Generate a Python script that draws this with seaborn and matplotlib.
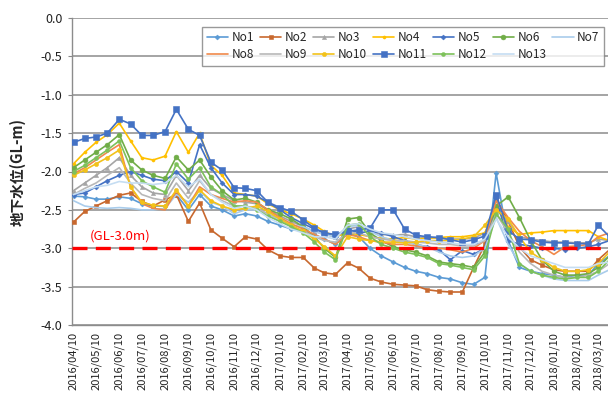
import matplotlib
matplotlib.use("Agg")
import matplotlib.pyplot as plt
import pandas as pd
import seaborn as sns

# survey dates: 10th and 25th of every month, Apr 2016 - Mar 2018
months = pd.date_range("2016-04-01", "2018-03-01", freq="MS")
survey_dates = [m + pd.Timedelta(days=d) for m in months for d in (9, 24)]

# groundwater level below ground (GL-m) for each observation well
no1 = [-2.32, -2.33, -2.36, -2.36, -2.33, -2.35, -2.42, -2.45, -2.45, -2.30, -2.50, -2.30,
       -2.45, -2.50, -2.58, -2.55, -2.58, -2.65, -2.70, -2.75, -2.78, -2.82, -2.88, -2.95,
       -2.80, -2.85, -3.00, -3.10, -3.18, -3.25, -3.30, -3.33, -3.38, -3.40, -3.45, -3.47,
       -3.38, -2.02, -2.90, -3.25, -3.30, -3.33, -3.35, -3.38, -3.35, -3.35, -3.20, -3.10]
no2 = [-2.66, -2.52, -2.45, -2.38, -2.31, -2.28, -2.39, -2.45, -2.37, -2.30, -2.65, -2.41,
       -2.76, -2.87, -2.98, -2.85, -2.88, -3.02, -3.10, -3.12, -3.12, -3.26, -3.32, -3.34,
       -3.19, -3.26, -3.39, -3.44, -3.47, -3.48, -3.49, -3.54, -3.56, -3.57, -3.57, -3.25,
       -2.95, -2.35, -2.65, -2.98, -3.15, -3.22, -3.28, -3.30, -3.30, -3.30, -3.15, -3.02]
no3 = [-2.25, -2.15, -2.05, -1.95, -1.82, -2.05, -2.20, -2.28, -2.30, -2.05, -2.25, -2.05,
       -2.22, -2.30, -2.38, -2.40, -2.42, -2.50, -2.58, -2.65, -2.72, -2.78, -2.82, -2.85,
       -2.75, -2.72, -2.78, -2.82, -2.83, -2.82, -2.85, -2.86, -2.87, -2.88, -2.88, -2.87,
       -2.80, -2.50, -2.65, -2.85, -2.88, -2.90, -2.92, -2.92, -2.93, -2.93, -2.88, -2.90]
no4 = [-1.90, -1.75, -1.62, -1.52, -1.37, -1.60, -1.82, -1.85, -1.80, -1.48, -1.75, -1.50,
       -1.92, -2.05, -2.28, -2.30, -2.32, -2.42, -2.50, -2.55, -2.62, -2.70, -2.78, -2.85,
       -2.80, -2.82, -2.85, -2.87, -2.88, -2.86, -2.88, -2.87, -2.86, -2.85, -2.85, -2.83,
       -2.80, -2.45, -2.72, -2.82, -2.80, -2.79, -2.77, -2.77, -2.77, -2.77, -2.85, -2.90]
no5 = [-2.30, -2.28, -2.20, -2.12, -2.05, -2.00, -2.05, -2.10, -2.12, -2.00, -2.15, -1.65,
       -1.95, -2.15, -2.30, -2.30, -2.32, -2.40, -2.50, -2.60, -2.68, -2.75, -2.80, -2.85,
       -2.75, -2.80, -2.78, -2.80, -2.85, -2.90, -2.95, -2.98, -3.02, -3.15, -3.03, -3.08,
       -3.00, -2.35, -2.90, -2.95, -2.97, -3.00, -3.00, -3.02, -3.00, -2.98, -2.95, -2.90]
no6 = [-1.95, -1.85, -1.75, -1.65, -1.52, -1.85, -1.98, -2.05, -2.09, -1.81, -1.98, -1.85,
       -2.07, -2.25, -2.37, -2.35, -2.40, -2.50, -2.55, -2.62, -2.72, -2.85, -3.00, -3.12,
       -2.62, -2.60, -2.80, -2.90, -2.98, -3.02, -3.05, -3.10, -3.18, -3.20, -3.22, -3.25,
       -3.05, -2.45, -2.33, -2.60, -2.90, -3.15, -3.30, -3.35, -3.35, -3.33, -3.25, -3.10]
no7 = [-2.38, -2.45, -2.47, -2.48, -2.47, -2.48, -2.50, -2.50, -2.48, -2.30, -2.40, -2.25,
       -2.40, -2.45, -2.55, -2.50, -2.50, -2.55, -2.65, -2.70, -2.72, -2.78, -2.82, -2.85,
       -2.72, -2.70, -2.78, -2.85, -2.90, -2.92, -2.95, -2.98, -3.05, -3.10, -3.12, -3.10,
       -3.00, -2.60, -2.95, -3.20, -3.30, -3.35, -3.40, -3.42, -3.42, -3.42, -3.35, -3.28]
no8 = [-2.03, -1.95, -1.85, -1.75, -1.65, -2.20, -2.42, -2.48, -2.50, -2.25, -2.45, -2.20,
       -2.30, -2.35, -2.40, -2.38, -2.40, -2.50, -2.60, -2.68, -2.75, -2.82, -2.88, -2.95,
       -2.82, -2.85, -2.90, -2.92, -2.95, -2.95, -2.97, -3.00, -3.00, -3.02, -3.05, -3.00,
       -2.90, -2.38, -2.60, -2.78, -2.90, -2.98, -3.08, -2.98, -2.97, -2.95, -2.85, -2.80]
no9 = [-2.30, -2.22, -2.15, -2.05, -1.95, -2.15, -2.30, -2.35, -2.38, -2.15, -2.35, -2.12,
       -2.30, -2.38, -2.45, -2.45, -2.48, -2.55, -2.62, -2.70, -2.78, -2.85, -2.90, -2.92,
       -2.80, -2.80, -2.85, -2.88, -2.90, -2.90, -2.92, -2.93, -2.95, -2.95, -2.97, -2.97,
       -2.90, -2.55, -2.80, -3.05, -3.20, -3.30, -3.35, -3.38, -3.38, -3.35, -3.30, -3.20]
no10 = [-2.05, -1.98, -1.90, -1.82, -1.72, -2.20, -2.40, -2.44, -2.45, -2.24, -2.45, -2.24,
        -2.38, -2.45, -2.50, -2.48, -2.45, -2.52, -2.62, -2.70, -2.78, -2.88, -2.98, -3.10,
        -2.85, -2.88, -2.90, -2.92, -2.92, -2.93, -2.92, -2.90, -2.90, -2.90, -2.88, -2.85,
        -2.70, -2.50, -2.62, -2.85, -3.05, -3.15, -3.25, -3.30, -3.30, -3.28, -3.20, -3.05]
no11 = [-1.62, -1.57, -1.55, -1.50, -1.32, -1.38, -1.53, -1.53, -1.48, -1.19, -1.45, -1.53,
        -1.88, -1.98, -2.21, -2.22, -2.25, -2.40, -2.47, -2.52, -2.63, -2.74, -2.80, -2.82,
        -2.78, -2.76, -2.74, -2.50, -2.50, -2.75, -2.83, -2.85, -2.86, -2.89, -2.92, -2.89,
        -2.84, -2.30, -2.77, -2.88, -2.89, -2.92, -2.93, -2.93, -2.94, -2.94, -2.70, -2.85]
no12 = [-2.00, -1.92, -1.82, -1.72, -1.60, -1.95, -2.12, -2.20, -2.27, -1.90, -2.10, -1.95,
        -2.20, -2.30, -2.45, -2.45, -2.50, -2.58, -2.65, -2.72, -2.80, -2.92, -3.05, -3.15,
        -2.70, -2.68, -2.85, -2.95, -3.00, -3.05, -3.08, -3.12, -3.20, -3.22, -3.25, -3.28,
        -3.10, -2.55, -2.75, -3.20, -3.30, -3.35, -3.38, -3.40, -3.38, -3.38, -3.30, -3.15]
no13 = [-2.30, -2.25, -2.20, -2.18, -2.13, -2.15, -2.15, -2.17, -2.15, -2.05, -2.20, -2.10,
        -2.30, -2.40, -2.48, -2.45, -2.50, -2.60, -2.68, -2.75, -2.80, -2.85, -2.85, -2.88,
        -2.70, -2.68, -2.75, -2.80, -2.82, -2.85, -2.88, -2.90, -2.92, -2.93, -2.95, -2.95,
        -2.88, -2.62, -2.85, -3.00, -3.10, -3.15, -3.20, -3.25, -3.25, -3.25, -3.20, -3.18]

wells = ["No1", "No2", "No3", "No4", "No5", "No6", "No7",
         "No8", "No9", "No10", "No11", "No12", "No13"]
levels = [no1, no2, no3, no4, no5, no6, no7, no8, no9, no10, no11, no12, no13]

colors = ["#5B9BD5", "#C8682E", "#A5A5A5", "#FFC000", "#4472C4", "#70AD47", "#A9CCEB",
          "#F0894A", "#B8B8B8", "#F2C21A", "#4472C4", "#7DC15A", "#C5DDF2"]
markers = ["D", "s", "^", "o", "D", "o", None, None, None, "o", "s", "o", None]
msizes = [2.5, 3.5, 3.0, 2.2, 2.5, 3.5, 0, 0, 0, 3.0, 4.2, 2.8, 0]

y_ticks = [0.0, -0.5, -1.0, -1.5, -2.0, -2.5, -3.0, -3.5, -4.0]
y_ticklabels = ["0.0", "-0.5", "-1.0", "-1.5", "-2.0", "-2.5", "-3.0", "-3.5", "-4.0"]
tick_dates = [m + pd.Timedelta(days=9) for m in months]
x_ticklabels = [d.strftime("%Y/%m/%d") for d in tick_dates]

df = pd.DataFrame(
    [(d, v, w) for w, vals in zip(wells, levels) for d, v in zip(survey_dates, vals)],
    columns=["date", "level", "well"],
)

sns.set_theme(style="white")
plt.rcParams["font.family"] = ["Noto Sans CJK JP", "DejaVu Sans"]

fig = plt.figure(figsize=(6.08, 3.96), dpi=100)
ax = fig.add_axes([72 / 608, 71 / 396, 536 / 608, 307 / 396])

for w, c, mk, ms in zip(wells, colors, markers, msizes):
    sub = df[df["well"] == w]
    sns.lineplot(data=sub, x="date", y="level", ax=ax, color=c, lw=1.2,
                 marker=mk, markersize=ms, markeredgewidth=0.4, markeredgecolor=c,
                 estimator=None, label=w, zorder=3)

ax.axhline(-3.0, color="#FF0000", lw=2.4, dashes=(4.5, 2.5), zorder=5)
ax.text(pd.Timestamp("2016-05-01"), -2.93, "(GL-3.0m)", color="#FF0000",
        fontsize=9.5, va="bottom", ha="left")

ax.set_ylim(-4.0, 0.0)
ax.set_xlim(pd.Timestamp("2016-04-08"), pd.Timestamp("2018-03-23"))
ax.set_yticks(y_ticks)
ax.set_yticklabels(y_ticklabels, fontsize=9, color="#222222")
ax.set_xticks(tick_dates)
ax.set_xticklabels(x_ticklabels, rotation=90, fontsize=8, color="#222222")
ax.tick_params(axis="y", length=3, width=0.8, color="#888888", pad=4, left=True)
ax.tick_params(axis="x", length=0, pad=5)

ax.grid(axis="y", color="#8C8C8C", lw=1.1)
ax.grid(axis="x", visible=False)
for side in ("top", "right"):
    ax.spines[side].set_visible(False)
for side in ("left", "bottom"):
    ax.spines[side].set_color("#8C8C8C")
    ax.spines[side].set_linewidth(1.0)

ax.set_xlabel("")
ax.set_ylabel("地下水位(GL-m)", fontsize=10.5, fontweight="bold", labelpad=11)

# legend laid out row by row: No1-No7 on top, No8-No13 below
handles, labels = ax.get_legend_handles_labels()
lookup = dict(zip(labels, handles))
order = ["No1", "No8", "No2", "No9", "No3", "No10", "No4",
         "No11", "No5", "No12", "No6", "No13", "No7"]
leg = ax.legend([lookup[k] for k in order], order, ncol=7, loc="upper right",
                bbox_to_anchor=(0.993, 0.972), fontsize=8.5, frameon=True,
                fancybox=False, edgecolor="#808080", handlelength=1.8,
                handletextpad=0.3, columnspacing=0.5, labelspacing=0.3,
                borderpad=0.4, borderaxespad=0.0)
leg.get_frame().set_linewidth(1.0)
leg.set_zorder(10)

fig.savefig("out.png", dpi=100)
